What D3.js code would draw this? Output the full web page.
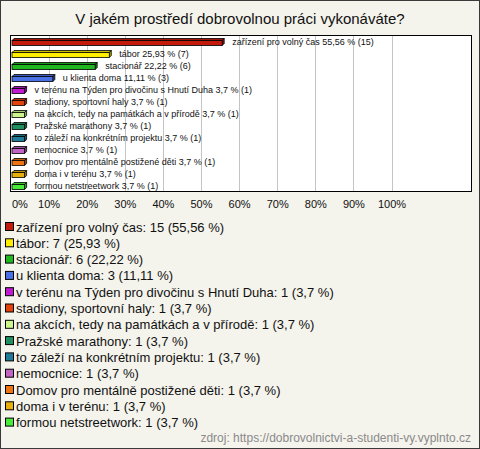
<!DOCTYPE html>
<html>
<head>
<meta charset="utf-8">
<style>
body, html {
	margin: 0;
	padding: 0;
	background: #f4f3ec;
}
svg { display: block; }
</style>
</head>
<body>
<div id="chart"></div>
<script src="https://cdn.jsdelivr.net/npm/d3@7"></script>
<script>

const categories = [
	"zařízení pro volný čas",
	"tábor",
	"stacionář",
	"u klienta doma",
	"v terénu na Týden pro divočinu s Hnutí Duha",
	"stadiony, sportovní haly",
	"na akcích, tedy na památkách a v přírodě",
	"Pražské marathony",
	"to záleží na konkrétním projektu",
	"nemocnice",
	"Domov pro mentálně postižené děti",
	"doma i v terénu",
	"formou netstreetwork"
];
const counts = [15, 7, 6, 3, 1, 1, 1, 1, 1, 1, 1, 1, 1];
const percents = [55.56, 25.93, 22.22, 11.11, 3.7, 3.7, 3.7, 3.7, 3.7, 3.7, 3.7, 3.7, 3.7];
const colors = ["#c41a0c", "#ffee00", "#1fb81f", "#4a70e6", "#c21ad2", "#e2420c",
	"#ccf68c", "#1e9060", "#1f7b98", "#c264c4", "#ec7412", "#e8b00c", "#48ec38"];
const tickValues = [0, 10, 20, 30, 40, 50, 60, 70, 80, 90, 100];

const TITLE = "V jakém prostředí dobrovolnou práci vykonáváte?";
const SOURCE = "zdroj: https://dobrovolnictvi-a-studenti-vy.vyplnto.cz";

const W = 480, H = 449;
const PLOT = {left: 10.5, right: 471.5, top: 35.5, bottom: 191.5};
const DEPTH = 2;
const BAR_H = 5;

const fmt = (v) => String(v).replace(".", ",");

var svg = d3.select("#chart").append("svg")
	.attr("width", W).attr("height", H)
	.style("font-family", "Arial, 'Liberation Sans', sans-serif");

svg.append("rect")
	.attr("x", 0.5).attr("y", 0.5)
	.attr("width", W - 1).attr("height", H - 1)
	.attr("fill", "#f4f3ec").attr("stroke", "#3a3a3a");

svg.append("text")
	.attr("x", 240).attr("y", 24)
	.attr("text-anchor", "middle")
	.attr("font-size", "15px")
	.attr("fill", "#111")
	.text(TITLE);

var x = d3.scaleLinear().domain([0, 100]).range([PLOT.left, 391.5]);
var y = d3.scaleBand().domain(d3.range(categories.length)).range([PLOT.top, PLOT.bottom]);

svg.append("rect")
	.attr("x", PLOT.left).attr("y", PLOT.top)
	.attr("width", PLOT.right - PLOT.left).attr("height", PLOT.bottom - PLOT.top)
	.attr("fill", "#fff");

// gridlines
svg.append("g").selectAll("line")
	.data(tickValues.slice(1))
	.enter().append("line")
		.attr("x1", (d) => Math.round(x(d)) + 0.5).attr("x2", (d) => Math.round(x(d)) + 0.5)
		.attr("y1", PLOT.top).attr("y2", PLOT.bottom)
		.attr("stroke", "#c4c4c4");

svg.append("rect")
	.attr("x", PLOT.left).attr("y", PLOT.top)
	.attr("width", PLOT.right - PLOT.left).attr("height", PLOT.bottom - PLOT.top)
	.attr("fill", "none").attr("stroke", "#000");

// tick labels
var axis = d3.axisBottom(x).tickValues(tickValues).tickSize(0).tickFormat((d) => d + "%");
var axisG = svg.append("g")
	.attr("transform", `translate(0,${PLOT.bottom + 6})`)
	.call(axis);
axisG.select(".domain").remove();
axisG.selectAll("text")
	.attr("font-size", "11px")
	.attr("font-family", "Arial, 'Liberation Sans', sans-serif")
	.attr("fill", "#111");
axisG.selectAll(".tick").filter((d) => d === 0).select("text")
	.attr("text-anchor", "start").attr("x", 1);

// 3D bars
var bars = svg.append("g").selectAll("g")
	.data(categories.map((c, i) => ({name: c, count: counts[i], pct: percents[i], color: colors[i], i: i})))
	.enter().append("g");

bars.each(function(d) {
	const g = d3.select(this);
	const x0 = x(0) + 1.5;
	const x1 = x(d.pct);
	const yc = y(d.i) + y.bandwidth() / 2 + 0.5;
	const yt = Math.round(yc - BAR_H / 2) + 0.5;
	const yb = yt + BAR_H;
	const c = d3.color(d.color);
	// top face
	g.append("path")
		.attr("d", `M${x0},${yt} L${x0 + DEPTH},${yt - DEPTH} L${x1 + DEPTH},${yt - DEPTH} L${x1},${yt} Z`)
		.attr("fill", c.darker(0.6)).attr("stroke", "#000").attr("stroke-width", 0.8);
	// side face
	g.append("path")
		.attr("d", `M${x1},${yt} L${x1 + DEPTH},${yt - DEPTH} L${x1 + DEPTH},${yb - DEPTH} L${x1},${yb} Z`)
		.attr("fill", c.darker(1)).attr("stroke", "#000").attr("stroke-width", 0.8);
	// front face
	g.append("rect")
		.attr("x", x0).attr("y", yt)
		.attr("width", x1 - x0).attr("height", BAR_H)
		.attr("fill", d.color).attr("stroke", "#000").attr("stroke-width", 0.8);
	g.append("text")
		.attr("x", x1 + 10).attr("y", yc).attr("dy", "0.35em")
		.attr("font-size", "9px")
		.attr("fill", "#111")
		.text(`${d.name} ${fmt(d.pct)} % (${d.count})`);
});

// legend
var legend = svg.append("g").selectAll("g")
	.data(categories.map((c, i) => ({name: c, count: counts[i], pct: percents[i], color: colors[i], i: i})))
	.enter().append("g")
		.attr("transform", (d) => `translate(0,${226 + d.i * 16.3})`);

legend.append("rect")
	.attr("x", 5.5).attr("y", -3.5)
	.attr("width", 8).attr("height", 8)
	.attr("fill", (d) => d.color).attr("stroke", "#000");

legend.append("text")
	.attr("x", 16).attr("y", 1).attr("dy", "0.35em")
	.attr("font-size", "13px")
	.attr("fill", "#111")
	.text((d) => `${d.name}: ${d.count} (${fmt(d.pct)} %)`);

svg.append("text")
	.attr("x", 471).attr("y", 442)
	.attr("text-anchor", "end")
	.attr("font-size", "12px")
	.attr("fill", "#8a8a8a")
	.text(SOURCE);

</script>
</body>
</html>
